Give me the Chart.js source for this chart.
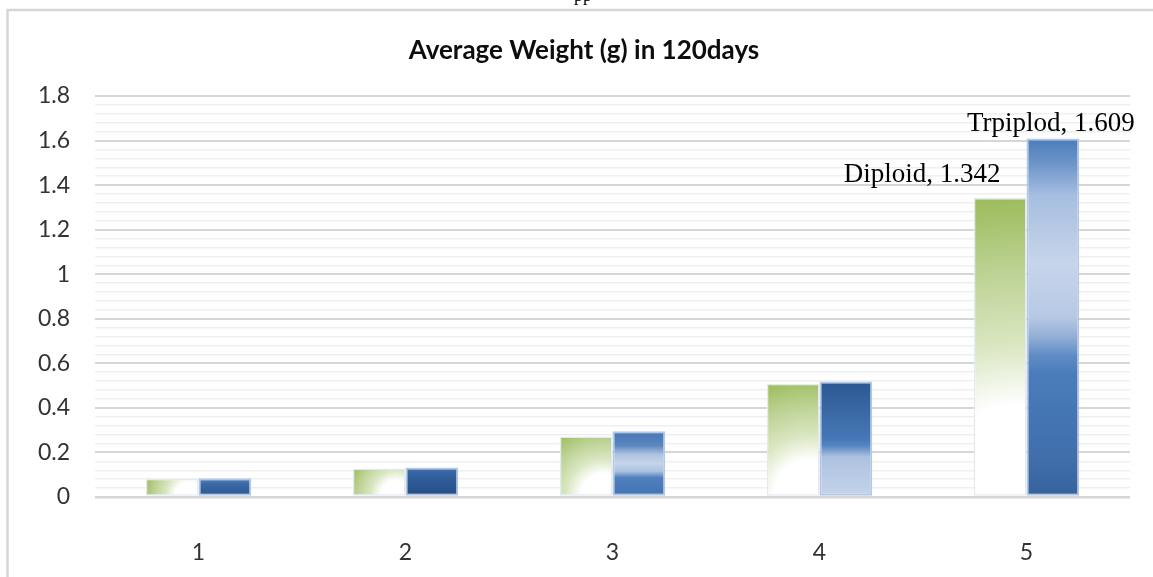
<!DOCTYPE html>
<html>
<head>
<meta charset="utf-8">
<script src="https://cdn.jsdelivr.net/npm/chart.js@4/dist/chart.umd.min.js"></script>
<style>
  html, body { margin: 0; padding: 0; background: #ffffff; }
  #wrap { width: 1153px; height: 577px; position: relative; }
</style>
</head>
<body>
<div id="wrap"><canvas id="c" width="1153" height="577"></canvas></div>
<script>
// ---- data ----
const categories = ['1', '2', '3', '4', '5'];
const seriesNames = ['Diploid', 'Trpiplod'];
const diploid = [0.082, 0.128, 0.272, 0.508, 1.342];
const triploid = [0.084, 0.132, 0.295, 0.518, 1.609];
const yTickLabels = ['0', '0.2', '0.4', '0.6', '0.8', '1', '1.2', '1.4', '1.6', '1.8'];
const chartTitle = 'Average Weight (g) in 120days';
const labelledIndex = 4;           // the point that carries "name, value" labels

// ---- styles ----
const greenStops = [[0, '#ffffff'], [0.3, '#ffffff'], [0.5, '#dae7c2'], [0.75, '#bcd293'], [1, '#9cbb5a']];
const blueStops = [
  [[0, '#5c88c1'], [0.3, '#3d6ba7'], [1, '#2a5690']],
  [[0, '#3f6eaa'], [0.4, '#2f5d99'], [1, '#254f88']],
  [[0, '#4676b5'], [0.22, '#5a86c0'], [0.36, '#aec3e1'], [0.5, '#c5d4ea'], [0.62, '#adc2e0'], [0.72, '#4f7fbd'], [1, '#4374b3']],
  [[0, '#2b5891'], [0.5, '#4677b6'], [0.56, '#5484c0'], [0.66, '#adc2e0'], [1, '#c4d3ea']],
  [[0, '#4a7cba'], [0.07, '#6d95c9'], [0.16, '#a6bee0'], [0.35, '#c7d5ea'], [0.5, '#b6c9e4'], [0.55, '#96b2d8'], [0.61, '#5e8bc4'], [0.66, '#4a7cbb'], [0.9, '#3f6eab'], [1, '#36639d']]
];

function geom(el) {
  if (!el || el.x === undefined || isNaN(el.x) || isNaN(el.y) || !el.width) return null;
  const h = el.width / 2;
  return { x0: el.x - h, x1: el.x + h, top: Math.min(el.y, el.base), bottom: Math.max(el.y, el.base) };
}

function greenFill(c) {
  const g = geom(c.element);
  if (!g) return '#c3d69b';
  const cx = g.x0 + 0.82 * (g.x1 - g.x0), cy = g.bottom;
  const r = Math.max(1, Math.hypot(cx - g.x0, cy - g.top));
  const grad = c.chart.ctx.createRadialGradient(cx, cy, 0, cx, cy, r);
  greenStops.forEach(([o, col]) => grad.addColorStop(o, col));
  return grad;
}

function blueFill(c) {
  const g = geom(c.element);
  if (!g) return '#4a7cba';
  const grad = c.chart.ctx.createLinearGradient(0, g.top, 0, g.bottom);
  (blueStops[c.dataIndex] || blueStops[0]).forEach(([o, col]) => grad.addColorStop(o, col));
  return grad;
}

// frame, title and the end-of-series labels
const decorations = {
  id: 'decorations',
  beforeDraw(chart) {
    const ctx = chart.ctx;
    ctx.save();
    ctx.fillStyle = '#ffffff';
    ctx.fillRect(0, 0, chart.width, chart.height);
    ctx.strokeStyle = '#d6d6d6';
    ctx.lineWidth = 2.5;
    ctx.beginPath();
    ctx.moveTo(7.5, chart.height + 2);
    ctx.lineTo(7.5, 10);
    ctx.lineTo(chart.width + 2, 10);
    ctx.stroke();
    // tail of the preceding text line
    ctx.fillStyle = '#000000';
    ctx.font = '18px "Liberation Serif", serif';
    ctx.textAlign = 'center';
    ctx.textBaseline = 'alphabetic';
    ctx.fillText('pp', 583, 1);
    // title
    ctx.font = 'bold 26px Lato, "Open Sans", sans-serif';
    ctx.textBaseline = 'middle';
    ctx.fillStyle = '#0d0d0d';
    ctx.fillText(chartTitle, 584, 51);
    ctx.restore();
  },
  afterDatasetsDraw(chart) {
    const ctx = chart.ctx;
    const g = chart.getDatasetMeta(0).data[labelledIndex];
    const b = chart.getDatasetMeta(1).data[labelledIndex];
    ctx.save();
    ctx.fillStyle = '#000000';
    ctx.font = '27px "Liberation Serif", "DejaVu Serif", serif';
    ctx.textAlign = 'center';
    ctx.textBaseline = 'alphabetic';
    ctx.fillText(seriesNames[0] + ', ' + diploid[labelledIndex], g.x - 78, g.y - 16);
    ctx.fillText(seriesNames[1] + ', ' + triploid[labelledIndex], b.x - 2, b.y - 8);
    ctx.restore();
  }
};

Chart.defaults.font.family = 'Lato, "Open Sans", sans-serif';
Chart.defaults.font.size = 23;
Chart.defaults.color = '#333333';

const chart = new Chart(document.getElementById('c'), {
  type: 'bar',
  data: {
    labels: categories,
    datasets: [
      {
        label: seriesNames[0],
        data: diploid,
        backgroundColor: greenFill,
        borderColor: '#e2eaf3',
        borderWidth: 1.5,
        borderSkipped: false
      },
      {
        label: seriesNames[1],
        data: triploid,
        backgroundColor: blueFill,
        borderColor: '#b4c8e3',
        borderWidth: 2,
        borderSkipped: false
      }
    ]
  },
  options: {
    responsive: false,
    devicePixelRatio: 1,
    animation: false,
    events: [],
    layout: { padding: { top: 96, right: 23, left: 0, bottom: 0 } },
    datasets: { bar: { categoryPercentage: 0.51, barPercentage: 1 } },
    plugins: {
      legend: { display: false },
      title: { display: false },
      tooltip: { enabled: false }
    },
    scales: {
      x: {
        grid: { display: false },
        border: { display: false },
        ticks: { padding: 34, color: '#333333' },
        afterFit(s) { s.height = 80; }
      },
      y: {
        min: 0,
        max: 1.8,
        afterBuildTicks(s) {
          const t = [];
          for (let i = 0; i <= 45; i++) t.push({ value: +(i * 0.04).toFixed(2) });
          s.ticks = t;
        },
        afterFit(s) { s.width = 95; },
        border: { display: false },
        grid: {
          drawTicks: false,
          color: c => (c.index % 5 === 0 ? '#d6d6d6' : '#efefef'),
          lineWidth: c => (c.index === 0 ? 2.5 : (c.index % 5 === 0 ? 2 : 1.5))
        },
        ticks: {
          autoSkip: false,
          padding: 25,
          color: '#333333',
          callback: (v, i) => (i % 5 === 0 ? yTickLabels[i / 5] : '')
        }
      }
    }
  },
  plugins: [decorations]
});
// second pass so each bar's gradient is built from its laid-out geometry
chart.update('none');
</script>
</body>
</html>
